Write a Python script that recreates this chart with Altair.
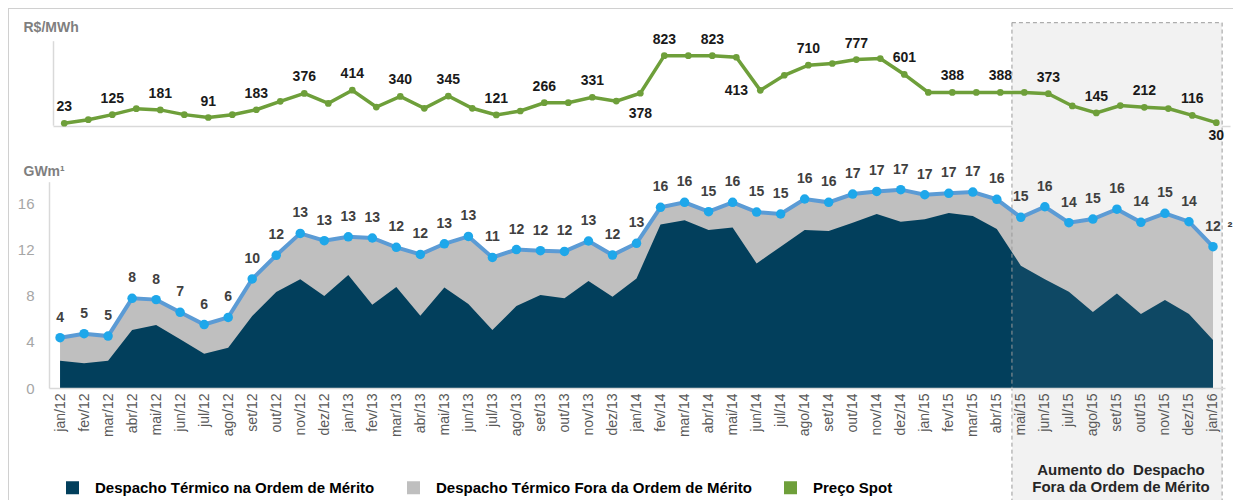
import json
import altair as alt
import pandas as pd

# ---------------- data ----------------
months = [
    "jan/12", "fev/12", "mar/12", "abr/12", "mai/12", "jun/12", "jul/12", "ago/12", "set/12", "out/12", "nov/12", "dez/12",
    "jan/13", "fev/13", "mar/13", "abr/13", "mai/13", "jun/13", "jul/13", "ago/13", "set/13", "out/13", "nov/13", "dez/13",
    "jan/14", "fev/14", "mar/14", "abr/14", "mai/14", "jun/14", "jul/14", "ago/14", "set/14", "out/14", "nov/14", "dez/14",
    "jan/15", "fev/15", "mar/15", "abr/15", "mai/15", "jun/15", "jul/15", "ago/15", "set/15", "out/15", "nov/15", "dez/15",
    "jan/16",
]

# Preço Spot (R$/MWh)
spot = [23, 65, 125, 196, 181, 125, 91, 124, 183, 283, 376, 258,
        414, 215, 340, 200, 345, 200, 121, 168, 266, 266, 331, 285,
        378, 823, 823, 823, 804, 413, 591, 710, 730, 777, 789, 601,
        388, 388, 388, 388, 388, 373, 228, 145, 232, 212, 197, 116,
        30]
spot_labeled = [0, 2, 4, 6, 8, 10, 12, 14, 16, 18, 20, 22, 24,
                25, 27, 29, 31, 33, 35, 37, 39, 41, 43, 45, 47, 48]
spot_below = [24]
spot_under = [48]
spot_left = [29]

# Despacho térmico (GWm)
merit = [2.37, 2.14, 2.37, 5.03, 5.46, 4.22, 2.97, 3.49, 6.24, 8.32, 9.42, 7.97,
         9.79, 7.22, 8.75, 6.27, 8.70, 7.28, 5.03, 7.10, 8.06, 7.77, 9.27, 7.91,
         9.50, 14.18, 14.53, 13.69, 13.92, 10.80, 12.25, 13.69, 13.60, 14.33, 15.08, 14.41,
         14.62, 15.16, 14.90, 13.78, 10.60, 9.42, 8.35, 6.59, 8.20, 6.41, 7.63, 6.41,
         4.16]
total = [4.36, 4.71, 4.50, 7.77, 7.66, 6.56, 5.50, 6.12, 9.45, 11.50, 13.40, 12.77,
         13.10, 13.00, 12.19, 11.58, 12.50, 13.14, 11.32, 12.00, 11.90, 11.84, 12.74, 11.52,
         12.54, 15.66, 16.09, 15.28, 16.09, 15.25, 15.08, 16.38, 16.09, 16.81, 17.04, 17.19,
         16.75, 16.87, 16.98, 16.35, 14.79, 15.71, 14.33, 14.64, 15.50, 14.36, 15.14, 14.41,
         12.25]
total_labels = ["4", "5", "5", "8", "8", "7", "6", "6", "10", "12", "13", "13",
                "13", "13", "12", "12", "13", "13", "11", "12", "12", "12", "13", "12",
                "13", "16", "16", "15", "16", "15", "15", "16", "16", "17", "17", "17",
                "17", "17", "17", "16", "15", "16", "14", "15", "16", "14", "15", "14",
                "12"]

series_names = ["Despacho Térmico na Ordem de Mérito",
                "Despacho Térmico Fora da Ordem de Mérito",
                "Preço Spot"]
series_colors = ["#023f5c", "#bfbfbf", "#6e9f3a"]

shade_start = 39.63
shade_end = 48.38
annotation_lines = ["Aumento do\u00a0 Despacho", "Fora da Ordem de Mérito"]
annotation_x = 44.17

# ---------------- frames ----------------
idx = list(range(len(months)))
bottom_df = pd.DataFrame({"i": idx, "month": months, "merit": merit,
                          "total": total, "label": total_labels})


def spot_pos(i):
    if i in spot_below:
        return "below"
    if i in spot_under:
        return "under"
    if i in spot_left:
        return "left"
    if i in spot_labeled:
        return "above"
    return "none"


spot_df = pd.DataFrame({"i": idx, "spot": spot, "pos": [spot_pos(i) for i in idx]})
shade_df = pd.DataFrame({"x0": [shade_start], "x1": [shade_end]})
annot_df = pd.DataFrame({"x": [annotation_x] * len(annotation_lines),
                         "txt": annotation_lines, "line": list(range(len(annotation_lines)))})
legend_df = pd.DataFrame({"serie": series_names, "i": [0, 0, 0], "total": [0, 0, 0]})
one_df = pd.DataFrame({"a": [0]})

FONT = "Liberation Sans"
AXC = "#d9d9d9"
W, H = 1225, 492

# ---------------- scales / axes ----------------
xb_scale = alt.Scale(domain=[-0.46, 48.5], range=[41, 1217], nice=False, zero=False)
xb_axis = alt.Axis(orient="bottom", offset=-(H - 380), values=idx,
                   labelExpr=json.dumps(months) + "[datum.value]",
                   labelAngle=270, labelFontSize=14, labelColor="#595959", labelFont=FONT,
                   labelPadding=5, labelOverlap=False, labelFlush=False,
                   ticks=False, tickSize=0, domainColor=AXC, domainWidth=1.5,
                   grid=False, title=None, zindex=1)
yb_scale = alt.Scale(domain=[0, 17.88], range=[380, 173.7], nice=False, zero=False)
yb_axis = alt.Axis(orient="left", offset=-41, values=[0, 4, 8, 12, 16],
                   labelFontSize=15, labelColor="#a6a6a6", labelFont=FONT, labelPadding=15,
                   labelFlush=False, ticks=False, tickSize=0, domainColor=AXC, domainWidth=1.5,
                   grid=False, title="GWm¹", titleAngle=0, titleX=-26, titleY=163,
                   titleAlign="left", titleBaseline="middle", titleFontSize=14,
                   titleFont=FONT, titleFontWeight="bold", titleColor="#7f7f7f")

xt_scale = alt.Scale(domain=[-0.47, 48.57], range=[45, 1222], nice=False, zero=False)
xt_axis = alt.Axis(orient="top", offset=-118, labels=False, ticks=False, tickSize=0,
                   domainColor=AXC, domainWidth=1.5, grid=False, title=None)
yt_scale = alt.Scale(domain=[0, 1000], range=[117.2, 32.7], nice=False, zero=False)
yt_axis = alt.Axis(orient="left", offset=-45, labels=False, ticks=False, tickSize=0,
                   domainColor=AXC, domainWidth=1.5, grid=False,
                   title="R$/MWh", titleAngle=0, titleX=-30, titleY=19.7,
                   titleAlign="left", titleBaseline="middle", titleFontSize=14,
                   titleFont=FONT, titleFontWeight="bold", titleColor="#7f7f7f")


def xb(field):
    return alt.X(field, type="quantitative", scale=xb_scale, axis=xb_axis)


def yb(field):
    return alt.Y(field, type="quantitative", scale=yb_scale, axis=yb_axis)


def xt(field):
    return alt.X(field, type="quantitative", scale=xt_scale, axis=xt_axis)


def yt(field):
    return alt.Y(field, type="quantitative", scale=yt_scale, axis=yt_axis)


# ---------------- bottom panel ----------------
base_b = alt.Chart(bottom_df)

shade_back = alt.Chart(shade_df).mark_rect(color="#f2f2f2").encode(
    x=xb("x0"), x2="x1", y=alt.value(14.7), y2=alt.value(H))

area_total = base_b.mark_area(color=series_colors[1], opacity=1).encode(x=xb("i"), y=yb("total"))
area_merit = base_b.mark_area(color=series_colors[0], opacity=1).encode(x=xb("i"), y=yb("merit"))

shade_front = alt.Chart(shade_df).mark_rect(
    fill="#ffffff", fillOpacity=0.05, stroke="#9a9a9a", strokeWidth=1, strokeDash=[4, 3]
).encode(x=xb("x0"), x2="x1", y=alt.value(14.7), y2=alt.value(H + 4))

line_total = base_b.mark_line(color="#5b9bd5", strokeWidth=4).encode(x=xb("i"), y=yb("total"))
pts_total = base_b.mark_circle(color="#1ea7ea", size=90, opacity=1).encode(x=xb("i"), y=yb("total"))
lbl_total = base_b.mark_text(dy=-20, fontSize=14, fontWeight="bold", color="#404040",
                             font=FONT).encode(x=xb("i"), y=yb("total"), text="label:N")
sup_total = base_b.transform_filter(alt.datum.i == 48).mark_text(
    text="²", dx=17, dy=-20, fontSize=15, fontWeight="bold", color="#404040", font=FONT
).encode(x=xb("i"), y=yb("total"))


def annot_line(n, ypix):
    return alt.Chart(annot_df).transform_filter(alt.datum.line == n).mark_text(
        fontSize=15, fontWeight="bold", color="#262626", font=FONT,
        align="center", baseline="middle"
    ).encode(x=xb("x"), y=alt.value(ypix), text="txt:N")


annot1 = annot_line(0, 462)
annot2 = annot_line(1, 479)

legend_layer = alt.Chart(legend_df).transform_filter("false").mark_square(
    opacity=1, filled=True, size=169
).encode(
    x=xb("i"), y=yb("total"),
    color=alt.Color("serie:N", scale=alt.Scale(domain=series_names, range=series_colors),
                    legend=alt.Legend(title=None, orient="none", legendX=57, legendY=472,
                                      direction="horizontal", symbolType="square",
                                      symbolSize=169, symbolStrokeWidth=0, symbolOpacity=1,
                                      labelFontSize=15, labelFontWeight="bold",
                                      labelColor="#000000", labelFont=FONT,
                                      labelOffset=15, columnPadding=31, padding=0,
                                      labelLimit=500)),
)

border_top = alt.Chart(one_df).mark_rule(color="#d0d0d0", strokeWidth=1).encode(
    x=alt.value(0), x2=alt.value(W), y=alt.value(0.5))
border_left = alt.Chart(one_df).mark_rule(color="#d0d0d0", strokeWidth=1).encode(
    x=alt.value(0.5), y=alt.value(0), y2=alt.value(H))

bottom = alt.layer(shade_back, area_total, area_merit, shade_front, line_total,
                   pts_total, lbl_total, sup_total, annot1, annot2, legend_layer,
                   border_top, border_left)

# ---------------- top panel ----------------
base_t = alt.Chart(spot_df)
GREEN = series_colors[2]
line_spot = base_t.mark_line(color=GREEN, strokeWidth=3.5).encode(x=xt("i"), y=yt("spot"))
pts_spot = base_t.mark_circle(color=GREEN, size=45, opacity=1).encode(x=xt("i"), y=yt("spot"))


def spot_labels(pos, dx, dy):
    return base_t.transform_filter(alt.datum.pos == pos).mark_text(
        dx=dx, dy=dy, fontSize=14, fontWeight="bold", color="#1a1a1a", font=FONT
    ).encode(x=xt("i"), y=yt("spot"), text=alt.Text("spot:Q", format="d"))


top = alt.layer(line_spot, pts_spot,
                spot_labels("above", 0, -16),
                spot_labels("below", 0, 21),
                spot_labels("under", 0, 13),
                spot_labels("left", -24, 1))

chart = alt.layer(bottom, top).resolve_scale(
    x="independent", y="independent"
).properties(
    width=W, height=H, padding=0,
    autosize=alt.AutoSizeParams(type="none"),
).configure_view(strokeWidth=0).configure(font=FONT, background="#ffffff")

chart.save("out.html", embed_options={"renderer": "svg", "actions": False})
